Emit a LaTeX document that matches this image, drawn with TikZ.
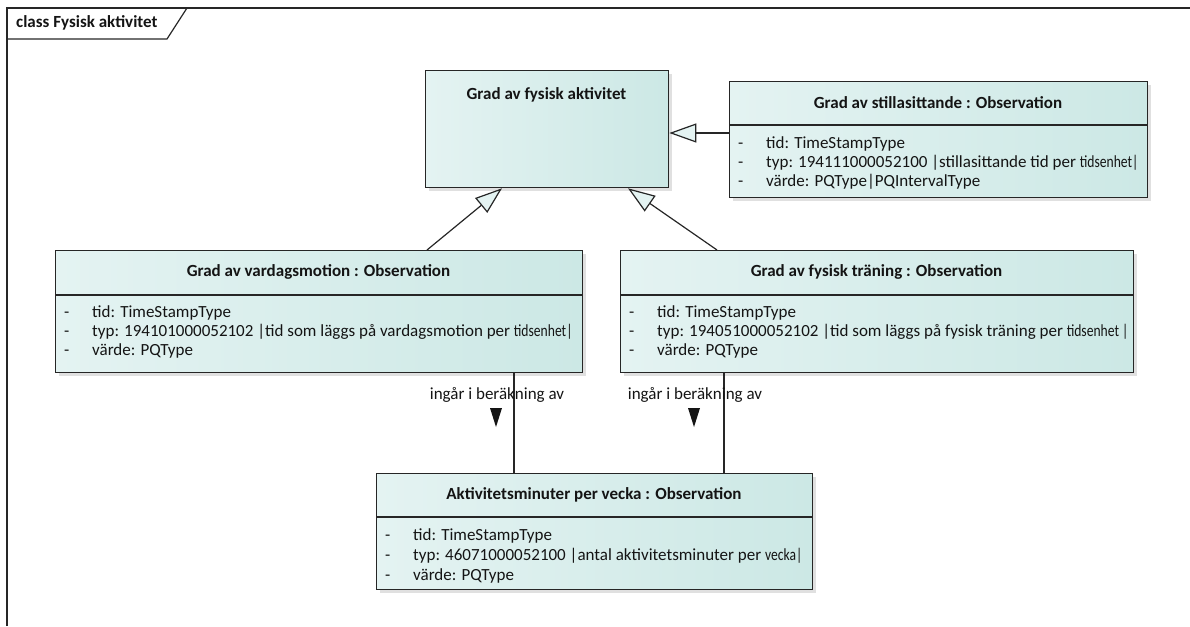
\documentclass[tikz,border=0pt]{standalone}
\usepackage{fontspec}
\setmainfont{Carlito}
\usepackage{graphicx}
\usetikzlibrary{arrows.meta,shadows}
\definecolor{umlleft}{RGB}{228,243,242}
\definecolor{umlright}{RGB}{204,232,229}
\definecolor{umlline}{RGB}{38,38,38}
\definecolor{umltext}{RGB}{20,20,20}
\newcommand{\attrdash}{\makebox[28pt][l]{-}}
\newcommand{\squeezed}[1]{\scalebox{0.8}[1]{#1}}

\begin{document}
\begin{tikzpicture}[x=1pt, y=-1pt,
  frame/.style={draw=umlline, line width=1.2pt},
  frametitle/.style={font=\bfseries\fontsize{17}{20}\selectfont, text=umltext, inner sep=0pt},
  umlbox/.style={draw=umlline, line width=1.3pt, anchor=north west, inner sep=0pt,
    left color=umlleft, right color=umlright,
    drop shadow={shadow xshift=3pt, shadow yshift=-3pt, fill=black, opacity=0.12}},
  splitline/.style={draw=umlline, line width=1.3pt},
  umltitle/.style={font=\bfseries\fontsize{17}{20}\selectfont, text=umltext, inner sep=0pt},
  umlattr/.style={font=\fontsize{17}{20}\selectfont, text=umltext, anchor=base west, inner sep=0pt},
  umllabel/.style={font=\fontsize{17}{20}\selectfont, text=umltext, inner sep=0pt},
  gen/.style={draw=umlline, line width=1.2pt, -{Triangle[length=27pt, width=19pt, fill=umlleft]}},
  assoc/.style={draw=umlline, line width=1.2pt},
  ]
\useasboundingbox (0,0) rectangle (1190,626);

% Ram med flik
\draw[frame] (7,626) -- (7,8) -- (1190,8);
\draw[frame] (7,39) -- (167,39) -- (187,8);
\node[frametitle, anchor=west] (ramtitel) at (16,23) {class Fysisk aktivitet};

% Grad av fysisk aktivitet
\node[umlbox, minimum width=243pt, minimum height=117pt] (akt) at (425,70) {};
\node[umltitle] (akt-titel) at (546.5,95) {Grad av fysisk aktivitet};

% Grad av stillasittande
\node[umlbox, minimum width=418pt, minimum height=116pt] (still) at (729,81) {};
\draw[splitline] (729,125) -- (1147,125);
\node[umltitle] (still-titel) at (938,103) {Grad av stillasittande : Observation};
\node[umlattr] (still-a1) at (738,148) {\attrdash tid: TimeStampType};
\node[umlattr] (still-a2) at (738,167) {\attrdash typ: 194111000052100 |stillasittande tid per \squeezed{tidsenhet|}};
\node[umlattr] (still-a3) at (738,186) {\attrdash värde: PQType|PQIntervalType};

% Grad av vardagsmotion
\node[umlbox, minimum width=527pt, minimum height=122pt] (vard) at (55,250) {};
\draw[splitline] (55,295) -- (582,295);
\node[umltitle] (vard-titel) at (318.5,272) {Grad av vardagsmotion : Observation};
\node[umlattr] (vard-a1) at (64,317) {\attrdash tid: TimeStampType};
\node[umlattr] (vard-a2) at (64,336) {\attrdash typ: 194101000052102 |tid som läggs på vardagsmotion per \squeezed{tidsenhet|}};
\node[umlattr] (vard-a3) at (64,355) {\attrdash värde: PQType};

% Grad av fysisk traning
\node[umlbox, minimum width=513pt, minimum height=122pt] (tran) at (620,250) {};
\draw[splitline] (620,295) -- (1133,295);
\node[umltitle] (tran-titel) at (876.5,272) {Grad av fysisk träning : Observation};
\node[umlattr] (tran-a1) at (629,317) {\attrdash tid: TimeStampType};
\node[umlattr] (tran-a2) at (629,336) {\attrdash typ: 194051000052102 |tid som läggs på fysisk träning per \squeezed{tidsenhet |}};
\node[umlattr] (tran-a3) at (629,355) {\attrdash värde: PQType};

% Aktivitetsminuter per vecka
\node[umlbox, minimum width=436pt, minimum height=116pt] (minut) at (376,473) {};
\draw[splitline] (376,517) -- (812,517);
\node[umltitle] (minut-titel) at (594,495) {Aktivitetsminuter per vecka : Observation};
\node[umlattr] (minut-a1) at (385,540) {\attrdash tid: TimeStampType};
\node[umlattr] (minut-a2) at (385,560) {\attrdash typ: 46071000052100 |antal aktivitetsminuter per \squeezed{vecka|}};
\node[umlattr] (minut-a3) at (385,580) {\attrdash värde: PQType};

% Generaliseringar
\coordinate (genY) at (0,133);
\draw[gen] (still.west |- genY) -- (akt.east |- genY);
\draw[gen] ([xshift=372pt]vard.north west) -- ([xshift=77pt]akt.south west);
\draw[gen] ([xshift=97pt]tran.north west) -- ([xshift=203pt]akt.south west);

% Associationer
\coordinate (legL) at (514,0);
\coordinate (legR) at (724,0);
\draw[assoc] (vard.south -| legL) -- (minut.north -| legL);
\draw[assoc] (tran.south -| legR) -- (minut.north -| legR);
\node[umllabel] (lblL) at (497,395) {ingår i beräkning av};
\node[umllabel] (lblR) at (695,395) {ingår i beräkning av};
\fill[umltext] (490,408) -- (502,408) -- (496,427) -- cycle;
\fill[umltext] (688,408) -- (700,408) -- (694,427) -- cycle;

\end{tikzpicture}
\end{document}
